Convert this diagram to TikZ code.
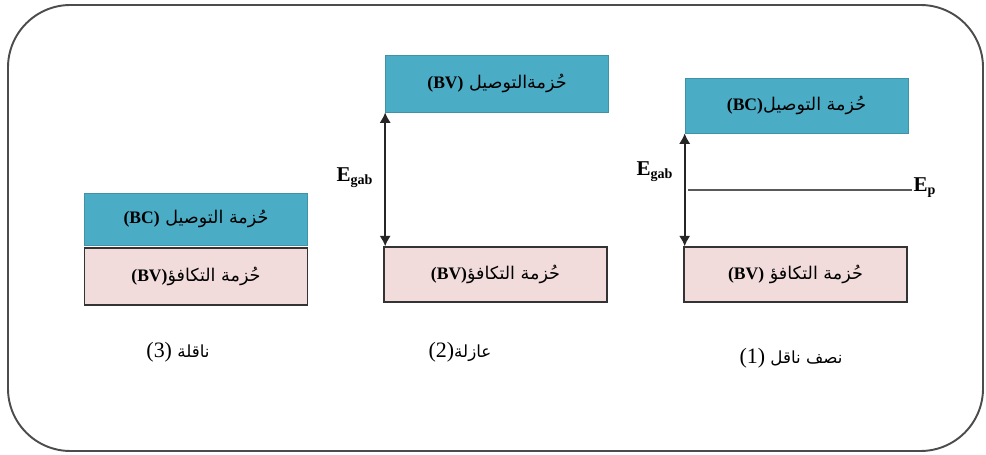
\documentclass[tikz,border=0pt]{standalone}
\usepackage{fontspec}
\setmainfont{Liberation Serif}
\newfontfamily\arabicfont[Script=Arabic]{DejaVu Sans}
\TeXXeTstate=1
\usetikzlibrary{arrows.meta}

\definecolor{bandc}{HTML}{4BACC6}
\definecolor{bandv}{HTML}{F2DCDB}

% arabic line, latin pieces kept left-to-right
\newcommand{\artxt}[1]{{\arabicfont\beginR #1\endR}}
\newcommand{\lat}[1]{\beginL{\rmfamily\bfseries #1}\endL}
\newcommand{\lnum}[1]{\beginL{\rmfamily\fontsize{12.5}{14}\selectfont #1}\endL}

\tikzset{
  frame/.style={line width=1.1pt, draw=black!70, rounded corners=1.25cm},
  band/.style={minimum width=4.46cm, inner sep=0pt, font=\fontsize{10}{12}\selectfont},
  cband/.style={band, fill=bandc, draw=bandc!85!black, line width=0.4pt},
  vband/.style={band, fill=bandv, draw=black!80, line width=0.8pt},
  gap/.style={{Latex[length=6pt,width=6.5pt]}-{Latex[length=6pt,width=6.5pt]}, line width=1.1pt, draw=black!85},
  elabel/.style={inner sep=1pt, font=\fontsize{12}{14}\selectfont},
  caption/.style={inner sep=1pt, font=\fontsize{9.5}{11}\selectfont},
}

\begin{document}
\begin{tikzpicture}[x=0.02cm, y=-0.02cm]
  \useasboundingbox (0,0) rectangle (986,455);

  % outer frame
  \draw[frame] (8,5) rectangle (983,451);

  % (3) conductor
  \node[cband, minimum height=1.04cm] (bc3) at (196,219) {\artxt{حُزمة التوصيل \lat{(BC)}}};
  \node[vband, minimum height=1.14cm] (bv3) at (196,276.5) {\artxt{حُزمة التكافؤ\lat{(BV)}}};
  \node[caption] (l3) at (178,352) {\artxt{ناقلة \lnum{(3)}}};

  % (2) insulator
  \node[cband, minimum height=1.14cm] (bc2) at (497,83.5) {\artxt{حُزمةالتوصيل \lat{(BV)}}};
  \node[vband, minimum height=1.1cm] (bv2) at (495.5,274.5) {\artxt{حُزمة التكافؤ\lat{(BV)}}};
  \draw[gap] (bc2.south west) -- (bc2.south west |- bv2.north);
  \node[elabel] (eg2) at (355,178) {\textbf{E}\textsubscript{\textbf{gab}}};
  \node[caption] (l2) at (460,352) {\artxt{عازلة\lnum{(2)}}};

  % (1) semiconductor
  \node[cband, minimum height=1.1cm] (bc1) at (796.5,105.5) {\artxt{حُزمة التوصيل\lat{(BC)}}};
  \node[vband, minimum height=1.1cm] (bv1) at (795.5,274.5) {\artxt{حُزمة التكافؤ \lat{(BV)}}};
  \draw[gap] (bc1.south west) -- (bc1.south west |- bv1.north);
  \node[elabel] (eg1) at (655,172) {\textbf{E}\textsubscript{\textbf{gab}}};
  \node[elabel] (ep) at (925,188) {\textbf{E}\textsubscript{\textbf{p}}};
  \coordinate (fl) at (688,190);
  \draw[line width=0.7pt, draw=black!65] (fl) -- (fl -| ep.west);
  \node[caption] (l1) at (791,358) {\artxt{نصف ناقل \lnum{(1)}}};
\end{tikzpicture}
\end{document}
